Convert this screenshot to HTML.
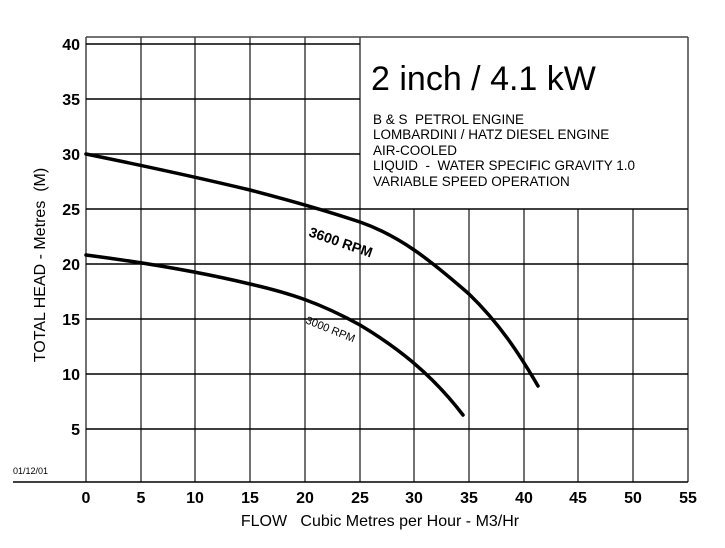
<!DOCTYPE html>
<html><head><meta charset="utf-8"><style>body{margin:0;background:#fff}svg{display:block}text{white-space:pre}</style></head><body>
<svg width="725" height="548" viewBox="0 0 725 548" xmlns="http://www.w3.org/2000/svg" font-family="Liberation Sans, Arial, sans-serif" xml:space="preserve">
<rect width="725" height="548" fill="#fff"/>
<g stroke="#444" stroke-width="1.5">
<line x1="86" y1="37" x2="86" y2="482"/>
<line x1="141" y1="37" x2="141" y2="482"/>
<line x1="195" y1="37" x2="195" y2="482"/>
<line x1="250" y1="37" x2="250" y2="482"/>
<line x1="305" y1="37" x2="305" y2="482"/>
<line x1="360" y1="37" x2="360" y2="482"/>
<line x1="414" y1="209" x2="414" y2="482"/>
<line x1="469" y1="209" x2="469" y2="482"/>
<line x1="524" y1="209" x2="524" y2="482"/>
<line x1="578" y1="209" x2="578" y2="482"/>
<line x1="633" y1="209" x2="633" y2="482"/>
<line x1="688" y1="37" x2="688" y2="482"/>
<line x1="86" y1="37" x2="688" y2="37"/>
<line x1="86" y1="44" x2="360" y2="44" stroke="#000"/>
<line x1="86" y1="99" x2="360" y2="99" stroke="#000"/>
<line x1="86" y1="154" x2="360" y2="154" stroke="#000"/>
<line x1="86" y1="209" x2="688" y2="209" stroke="#000"/>
<line x1="86" y1="264" x2="688" y2="264" stroke="#000"/>
<line x1="86" y1="319" x2="688" y2="319" stroke="#000"/>
<line x1="86" y1="374" x2="688" y2="374" stroke="#000"/>
<line x1="86" y1="429" x2="688" y2="429" stroke="#000"/>
<line x1="13" y1="482" x2="688" y2="482" stroke="#000"/>
</g>
<g fill="none" stroke="#000" stroke-width="3.5" stroke-linecap="round">
<path d="M86,154 C140,165 200,178 250,190 C300,203 330,212 360,222 C400,236 430,260 469,294 C500,324 520,355 538,386"/>
<path d="M86,255 C140,262 200,272 250,284 C290,293 320,303 360,325 C395,346 430,372 463,415"/>
</g>
<text x="0" y="0" font-size="14" font-weight="bold" transform="translate(308,236) rotate(19)" fill="#000">3600 RPM</text>
<text x="0" y="0" font-size="11" transform="translate(305,323) rotate(22)" fill="#000">3000 RPM</text>
<g font-size="16" font-weight="bold" text-anchor="end">
<text x="80" y="50">40</text><text x="80" y="105">35</text><text x="80" y="160">30</text>
<text x="80" y="215">25</text><text x="80" y="270">20</text><text x="80" y="325">15</text>
<text x="80" y="380">10</text><text x="80" y="435">5</text>
</g>
<g font-size="16" font-weight="bold" text-anchor="middle">
<text x="86" y="503">0</text><text x="141" y="503">5</text><text x="195" y="503">10</text>
<text x="250" y="503">15</text><text x="305" y="503">20</text><text x="360" y="503">25</text>
<text x="414" y="503">30</text><text x="469" y="503">35</text><text x="524" y="503">40</text>
<text x="578" y="503">45</text><text x="633" y="503">50</text><text x="688" y="503">55</text>
</g>
<text x="380" y="526" font-size="16" text-anchor="middle">FLOW   Cubic Metres per Hour - M3/Hr</text>
<text transform="translate(45,265) rotate(-90)" font-size="16" text-anchor="middle">TOTAL HEAD - Metres  (M)</text>
<text x="13" y="474" font-size="9">01/12/01</text>
<text x="371" y="90" font-size="34">2 inch / 4.1 kW</text>
<g font-size="13.5">
<text x="373" y="124">B &amp; S  PETROL ENGINE</text>
<text x="373" y="139">LOMBARDINI / HATZ DIESEL ENGINE</text>
<text x="373" y="155">AIR-COOLED</text>
<text x="373" y="170">LIQUID  -  WATER SPECIFIC GRAVITY 1.0</text>
<text x="373" y="186">VARIABLE SPEED OPERATION</text>
</g>
</svg>
</body></html>
